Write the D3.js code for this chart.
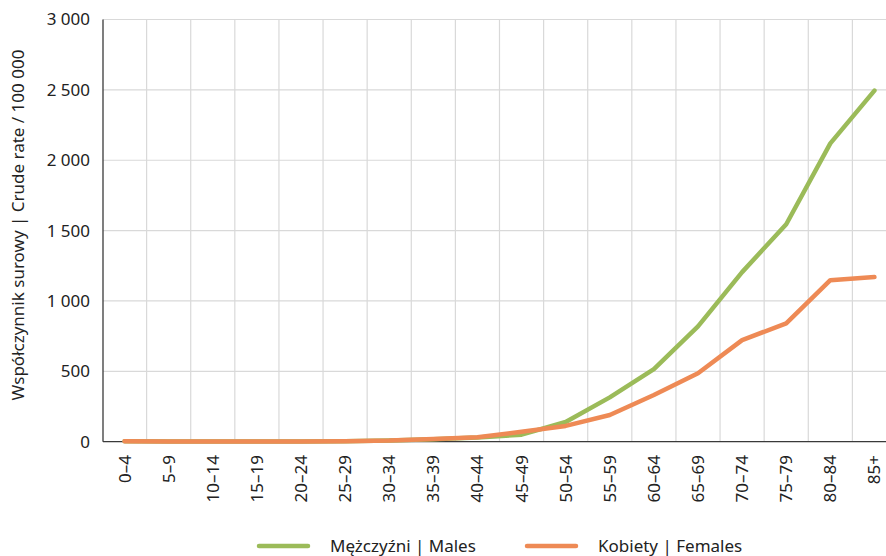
<!DOCTYPE html>
<html>
<head>
<meta charset="utf-8">
<script src="https://cdn.jsdelivr.net/npm/d3@7"></script>
<style>
  body { margin: 0; background: #fff; }
  svg { display: block; font-family: 'Noto Sans', sans-serif; }
</style>
</head>
<body>
<div id="chart"></div>
<script>
const ageGroups = ['0–4', '5–9', '10–14', '15–19', '20–24', '25–29', '30–34', '35–39', '40–44',
  '45–49', '50–54', '55–59', '60–64', '65–69', '70–74', '75–79', '80–84', '85+'];
const males = [3, 2, 1, 2, 2, 4, 8, 18, 30, 50, 140, 315, 515, 820, 1205, 1545, 2120, 2495];
const females = [3, 2, 1, 2, 2, 4, 8, 20, 32, 70, 112, 190, 332, 486, 722, 841, 1148, 1170];
const yTicks = [0, 500, 1000, 1500, 2000, 2500, 3000];
const seriesNames = ['Mężczyźni | Males', 'Kobiety | Females'];

const width = 886;
const height = 556;
const colors = ['#9bbb59', '#ee8a55'];

const svg = d3.select('#chart')
  .append('svg')
  .attr('width', width)
  .attr('height', height);

const x = d3.scaleBand()
  .domain(ageGroups)
  .range([102.5, 896.5]);

const y = d3.scaleLinear()
  .domain([0, 3000])
  .range([441.7, 19.5]);

const fmt = d => d3.format(',')(d).replace(',', ' ');

// grid
svg.append('g')
  .selectAll('line')
  .data(yTicks.filter(d => d > 0))
  .enter()
  .append('line')
  .attr('x1', 103)
  .attr('x2', 896)
  .attr('y1', d => y(d))
  .attr('y2', d => y(d))
  .attr('stroke', '#d9d9d9')
  .attr('stroke-width', 1.2);

svg.append('g')
  .selectAll('line')
  .data(ageGroups.slice(1))
  .enter()
  .append('line')
  .attr('x1', d => x(d))
  .attr('x2', d => x(d))
  .attr('y1', y(3000))
  .attr('y2', y(0))
  .attr('stroke', '#d9d9d9')
  .attr('stroke-width', 1.2);

// axes lines
svg.append('line')
  .attr('x1', 103).attr('x2', 103)
  .attr('y1', y(3000)).attr('y2', y(0))
  .attr('stroke', '#3a3a3a').attr('stroke-width', 1.3);
svg.append('line')
  .attr('x1', 103).attr('x2', 896)
  .attr('y1', y(0)).attr('y2', y(0))
  .attr('stroke', '#3a3a3a').attr('stroke-width', 1.3);

// y tick labels
svg.append('g')
  .selectAll('text')
  .data(yTicks)
  .enter()
  .append('text')
  .attr('x', 90)
  .attr('y', d => y(d))
  .attr('dy', '0.35em')
  .attr('text-anchor', 'end')
  .style('font-size', '17px')
  .attr('fill', '#222')
  .text(fmt);

// x tick labels
svg.append('g')
  .selectAll('text')
  .data(ageGroups)
  .enter()
  .append('text')
  .attr('transform', d => `translate(${x(d) + x.bandwidth() / 2 + 6}, 455) rotate(-90)`)
  .attr('text-anchor', 'end')
  .style('font-size', '17px')
  .attr('fill', '#222')
  .text(d => d);

// y title
svg.append('text')
  .attr('transform', 'translate(24, 225) rotate(-90)')
  .attr('text-anchor', 'middle')
  .style('font-size', '17px')
  .attr('fill', '#222')
  .text('Współczynnik surowy | Crude rate / 100 000');

// lines
const line = d3.line()
  .x((d, i) => x(ageGroups[i]) + x.bandwidth() / 2)
  .y(d => y(d));

[males, females].forEach((series, i) => {
  svg.append('path')
    .datum(series)
    .attr('d', line)
    .attr('fill', 'none')
    .attr('stroke', colors[i])
    .attr('stroke-width', 4.5)
    .attr('stroke-linecap', 'round')
    .attr('stroke-linejoin', 'round');
});

// legend
const legendX = [259, 527];
seriesNames.forEach((name, i) => {
  const g = svg.append('g').attr('transform', `translate(${legendX[i]}, 546)`);
  g.append('line')
    .attr('x1', 0).attr('x2', 49)
    .attr('stroke', colors[i])
    .attr('stroke-width', 4.5)
    .attr('stroke-linecap', 'round');
  g.append('text')
    .attr('x', 71)
    .attr('dy', '0.35em')
    .style('font-size', '17px')
    .attr('fill', '#222')
    .text(name);
});
</script>
</body>
</html>
